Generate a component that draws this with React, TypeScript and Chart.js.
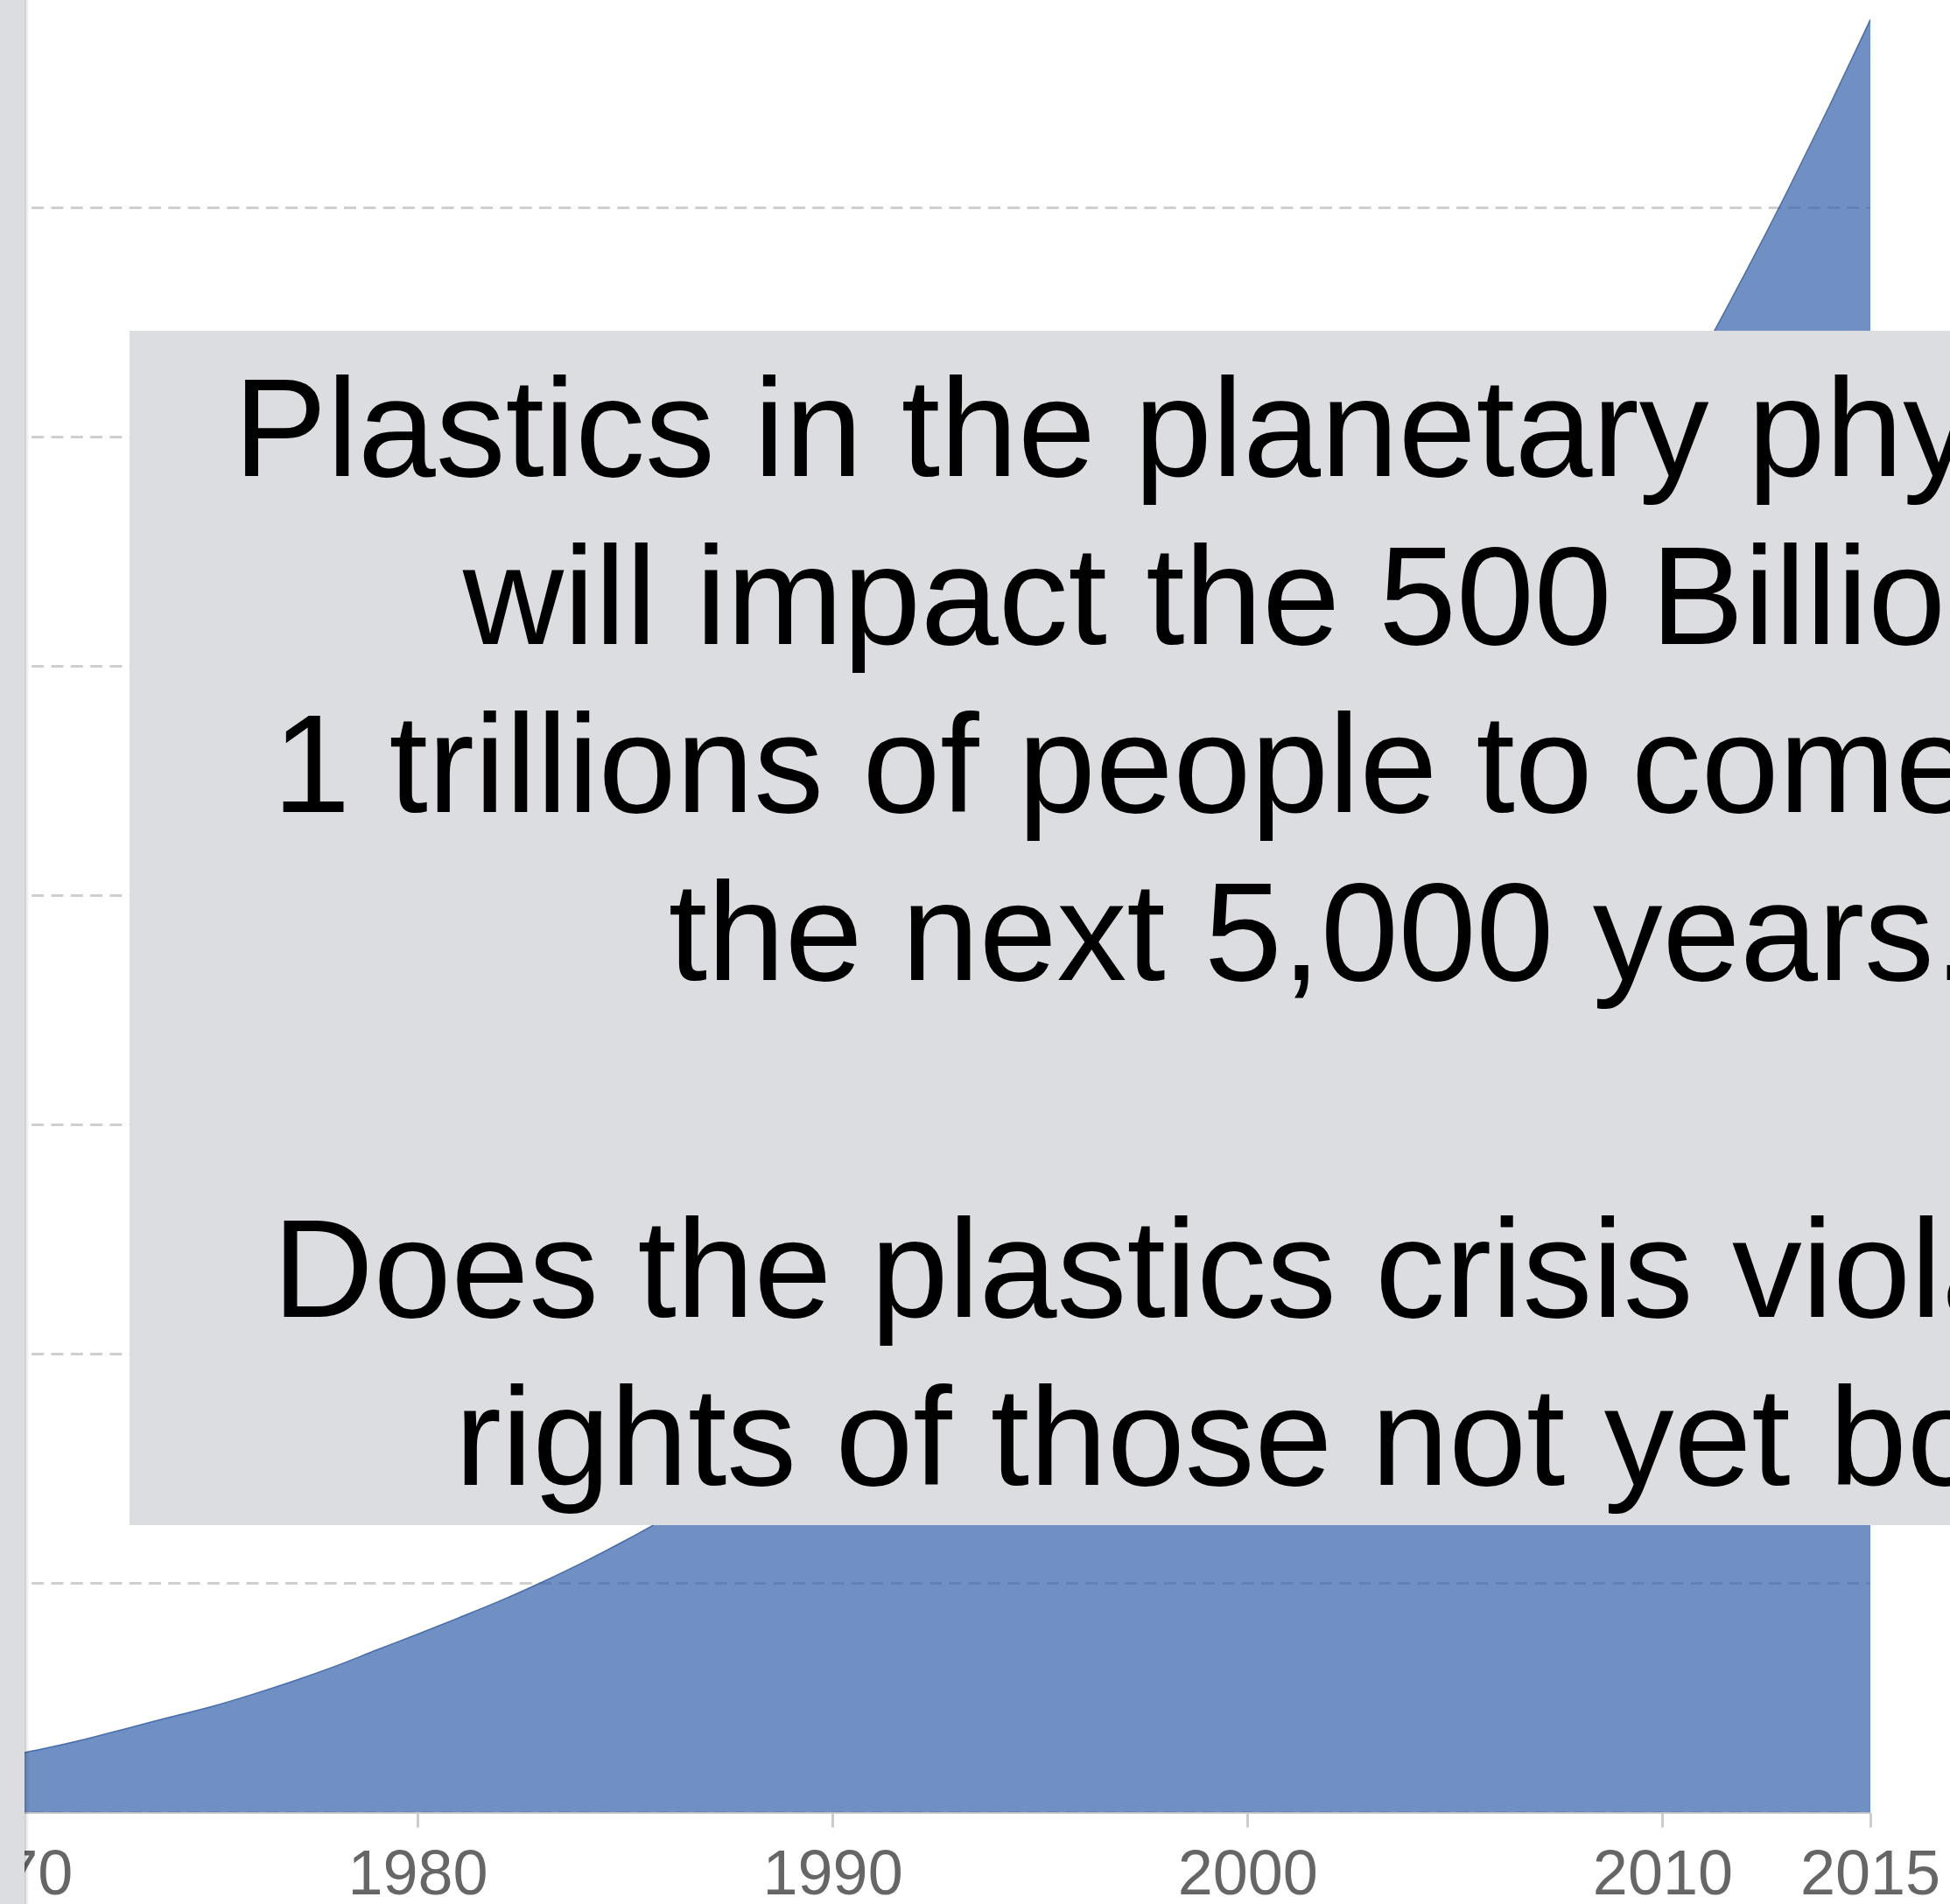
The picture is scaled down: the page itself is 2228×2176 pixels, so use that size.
import React, { useEffect, useRef } from "react";
import { Chart, registerables } from "chart.js";

Chart.register(...registerables);

// Cumulative global plastics production (million tonnes)
const YEARS = [
  1950, 1951, 1952, 1953, 1954, 1955, 1956, 1957, 1958, 1959,
  1960, 1961, 1962, 1963, 1964, 1965, 1966, 1967, 1968, 1969,
  1970, 1971, 1972, 1973, 1974, 1975, 1976, 1977, 1978, 1979,
  1980, 1981, 1982, 1983, 1984, 1985, 1986, 1987, 1988, 1989,
  1990, 1991, 1992, 1993, 1994, 1995, 1996, 1997, 1998, 1999,
  2000, 2001, 2002, 2003, 2004, 2005, 2006, 2007, 2008, 2009,
  2010, 2011, 2012, 2013, 2014, 2015,
];
const CUMULATIVE_MT = [
  2, 4, 6, 9, 12, 16, 21, 26, 32, 39,
  47, 56, 67, 79, 94, 111, 131, 153, 179, 209,
  244, 280, 321, 368, 415, 461, 515, 574, 638, 709,
  779, 851, 925, 1006, 1093, 1187, 1288, 1395, 1507, 1621,
  1741, 1865, 1997, 2134, 2285, 2441, 2609, 2789, 2975, 3177,
  3390, 3608, 3839, 4080, 4336, 4599, 4879, 5174, 5455, 5743,
  6056, 6381, 6719, 7071, 7438, 7819,
];
const X_TICKS = [1950, 1960, 1970, 1980, 1990, 2000, 2010, 2015];
const Y_MAX = 8000;
const Y_STEP = 1000;

const TEXT_LINES = [
  "Plastics in the planetary physiology",
  "will impact the 500 Billion to",
  "1 trillions of people to come within",
  "the next 5,000 years.",
  "",
  "Does the plastics crisis violate the",
  "rights of those not yet born?",
];

const FONT = "'Liberation Sans', Arial, Helvetica, sans-serif";

export default function App() {
  const canvasRef = useRef<HTMLCanvasElement | null>(null);

  useEffect(() => {
    const canvas = canvasRef.current;
    if (!canvas) return;
    const chart = new Chart(canvas, {
      type: "line",
      data: {
        datasets: [
          {
            data: YEARS.map((y, i) => ({ x: y, y: CUMULATIVE_MT[i] })),
            fill: "origin",
            backgroundColor: "rgba(51,96,169,0.7)",
            borderColor: "rgba(51,96,169,0.85)",
            borderWidth: 1.5,
            pointRadius: 0,
            cubicInterpolationMode: "monotone",
          },
        ],
      },
      options: {
        animation: false,
        responsive: false,
        devicePixelRatio: 1,
        layout: { padding: { left: 100, right: 100, top: 0, bottom: 0 } },
        plugins: {
          legend: { display: false },
          tooltip: { enabled: false },
        },
        scales: {
          x: {
            type: "linear",
            min: 1950,
            max: 2015,
            afterBuildTicks: (scale: any) => {
              scale.ticks = X_TICKS.map((v) => ({ value: v }));
            },
            grid: {
              drawOnChartArea: false,
              drawTicks: true,
              tickLength: 17,
              tickWidth: 3,
              tickColor: "#cccccc",
            },
            border: { display: true, color: "#cccccc", width: 2 },
            ticks: {
              padding: 13,
              color: "#666666",
              autoSkip: false,
              maxRotation: 0,
              font: { family: FONT, size: 72, lineHeight: 1.2 },
              callback: (v: any) => String(v),
            },
          },
          y: {
            min: 0,
            max: Y_MAX,
            ticks: { display: false, stepSize: Y_STEP },
            border: { display: false, dash: [14, 8.3] },
            grid: {
              drawTicks: false,
              color: "#cfcfcf",
              lineWidth: 3,
            },
          },
        },
      },
    });
    return () => chart.destroy();
  }, []);

  return (
    <div
      style={{
        position: "fixed",
        left: 0,
        top: 0,
        width: 2228,
        height: 2176,
        overflow: "hidden",
        background: "#ffffff",
        fontFamily: FONT,
      }}
    >
      <canvas
        ref={canvasRef}
        width={3282}
        height={2226}
        style={{
          position: "absolute",
          left: -1045,
          top: -25,
          width: 3282,
          height: 2226,
        }}
      />
      <div
        style={{
          position: "absolute",
          left: 148,
          top: 378,
          width: 2722,
          height: 1365,
          background: "#dcdde0",
          boxSizing: "border-box",
          paddingTop: 14.6,
          color: "#000000",
          fontSize: 159.6,
          lineHeight: "192.3px",
          textAlign: "center",
          whiteSpace: "nowrap",
          fontFamily: FONT,
        }}
      >
        {TEXT_LINES.map((t, i) => (
          <div key={i}>{t === "" ? "\u00a0" : t}</div>
        ))}
      </div>
      <div
        style={{
          position: "absolute",
          left: 0,
          top: 0,
          width: 28,
          height: 2176,
          background: "#dcdde0",
        }}
      />
      <div
        style={{
          position: "absolute",
          left: 28,
          top: 0,
          width: 6,
          height: 2176,
          background:
            "linear-gradient(to right, rgba(0,0,0,0.22), rgba(0,0,0,0.06) 50%, rgba(0,0,0,0))",
        }}
      />
    </div>
  );
}
